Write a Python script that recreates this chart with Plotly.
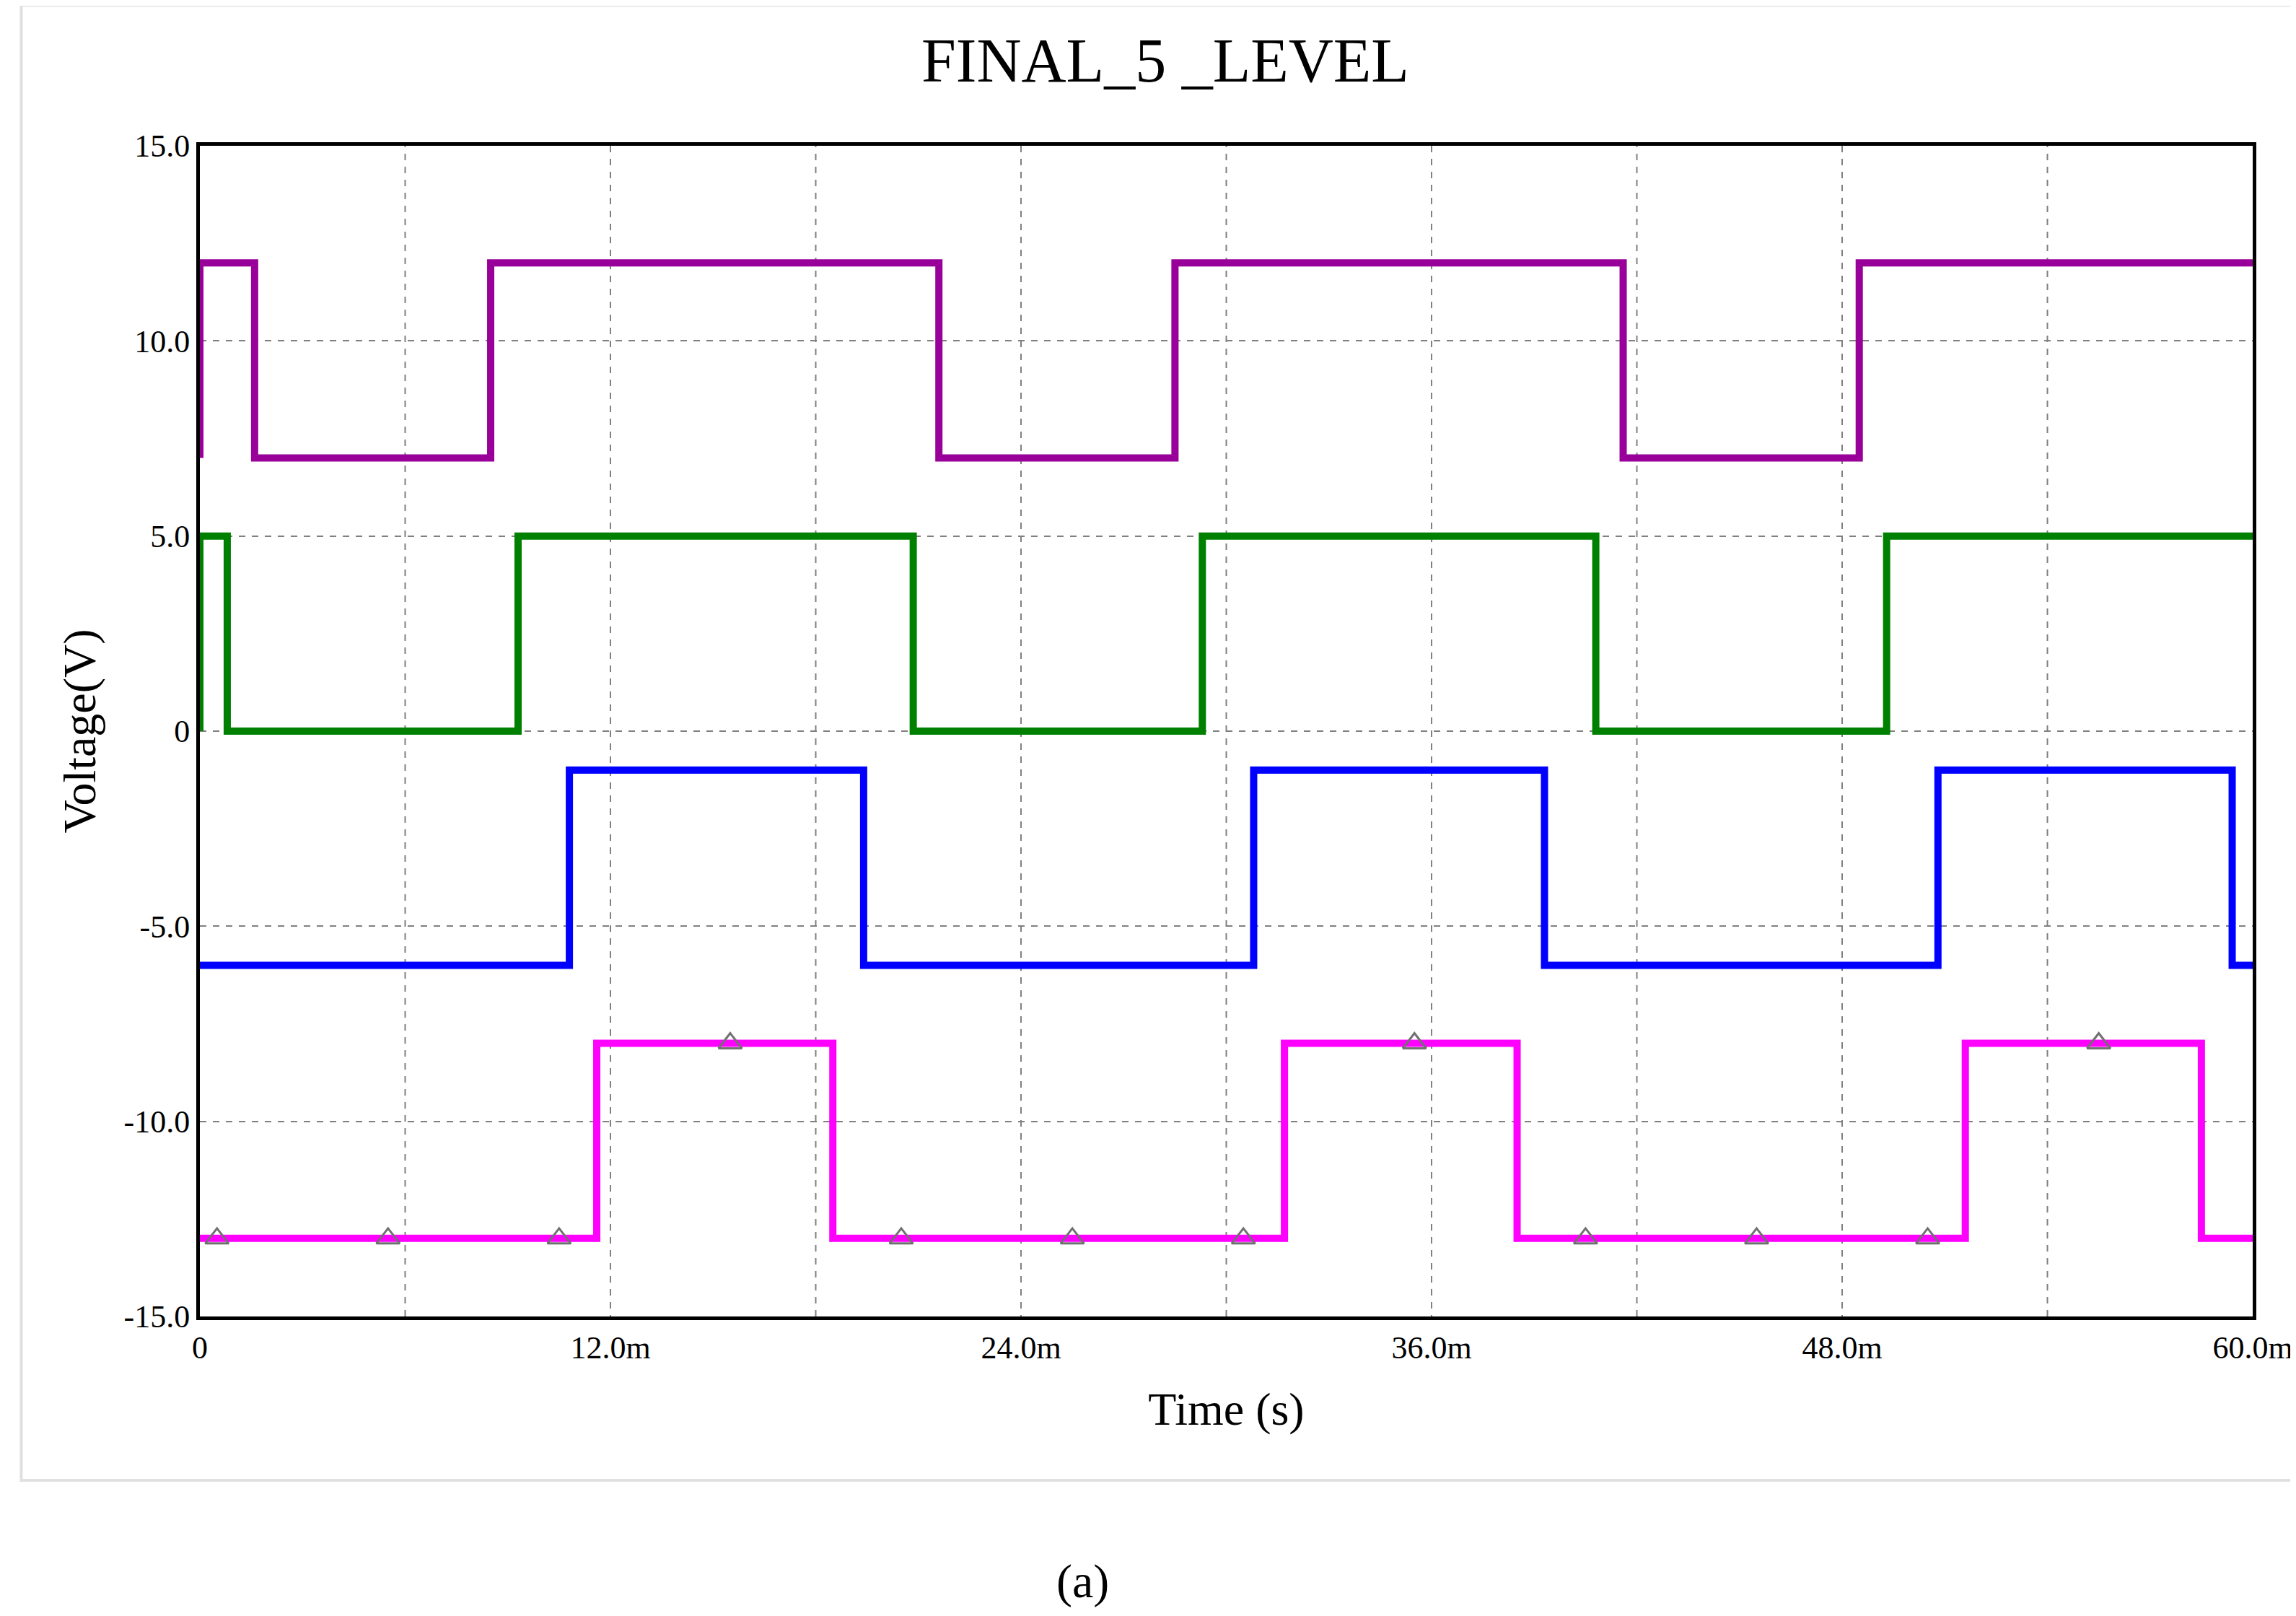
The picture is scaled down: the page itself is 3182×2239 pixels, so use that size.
import plotly.graph_objects as go

# switching instants (ms) and levels (V)
purple_t = [0, 0, 1.6, 8.5, 21.6, 28.5, 41.6, 48.5, 60]
purple_v = [7, 12, 7, 12, 7, 12, 7, 12, 12]
green_t = [0, 0, 0.8, 9.3, 20.85, 29.3, 40.8, 49.3, 60]
green_v = [0, 5, 0, 5, 0, 5, 0, 5, 5]
blue_t = [0, 10.8, 19.4, 30.8, 39.3, 50.8, 59.4, 60]
blue_v = [-6, -1, -6, -1, -6, -1, -6, -6]
mag_t = [0, 11.6, 18.5, 31.7, 38.5, 51.6, 58.5, 60]
mag_v = [-13, -8, -13, -8, -13, -8, -13, -13]
marker_t = [0.5, 5.5, 10.5, 15.5, 20.5, 25.5, 30.5, 35.5, 40.5, 45.5, 50.5, 55.5]
marker_v = [-13, -13, -13, -8, -13, -13, -13, -8, -13, -13, -13, -8]

xticks = [0, 12, 24, 36, 48, 60]
xlabels = ["0", "12.0m", "24.0m", "36.0m", "48.0m", "60.0m"]
yticks = [15, 10, 5, 0, -5, -10, -15]
ylabels = ["15.0", "10.0", "5.0", "0", "-5.0", "-10.0", "-15.0"]

fig = go.Figure()
for t, v, c in [(purple_t, purple_v, "#990099"), (green_t, green_v, "#008000"),
                (blue_t, blue_v, "#0000ff"), (mag_t, mag_v, "#ff00ff")]:
    fig.add_trace(go.Scatter(x=t, y=v, mode="lines", line_shape="hv",
                             line=dict(color=c, width=10), showlegend=False))
fig.add_trace(go.Scatter(x=marker_t, y=marker_v, mode="markers", showlegend=False,
                         marker=dict(symbol="triangle-up-open", size=28, color="#707070",
                                     line=dict(width=3))))

font = "Liberation Serif"
fig.update_layout(
    width=3182, height=2239, paper_bgcolor="white", plot_bgcolor="white",
    margin=dict(l=269, r=60, t=194, b=423),
    font=dict(family=font, color="black", size=44),
    title=dict(text="FINAL_5 _LEVEL", x=0.505, xanchor="center", y=0.98, yanchor="top",
               font=dict(size=86, family=font)),
    xaxis=dict(range=[0, 60], tickvals=xticks, ticktext=xlabels,
               showgrid=True, gridcolor="#808080", griddash="dash", gridwidth=2,
               showline=True, linecolor="black", linewidth=5, mirror=True,
               zeroline=False, ticks="", title=dict(text="Time (s)", font=dict(size=64), standoff=40)),
    yaxis=dict(range=[-15, 15], tickvals=yticks, ticktext=ylabels,
               showgrid=True, gridcolor="#808080", griddash="dash", gridwidth=2,
               showline=True, linecolor="black", linewidth=5, mirror=True,
               zeroline=False, ticks="", title=dict(text="Voltage(V)", font=dict(size=64), standoff=20)),
)
# extra dashed grid at 6 ms steps
for xg in [6, 18, 30, 42, 54]:
    fig.add_vline(x=xg, line=dict(color="#808080", width=2, dash="dash"), layer="below")
fig.add_shape(type="rect", xref="paper", yref="paper", x0=-0.087, x1=1.02, y0=-0.14, y1=1.12,
              line=dict(color="#e0e0e0", width=4))
fig.add_annotation(text="(a)", xref="paper", yref="paper", x=0.43, y=-0.25,
                   showarrow=False, font=dict(size=66, family=font))
fig.write_html("out.html")
